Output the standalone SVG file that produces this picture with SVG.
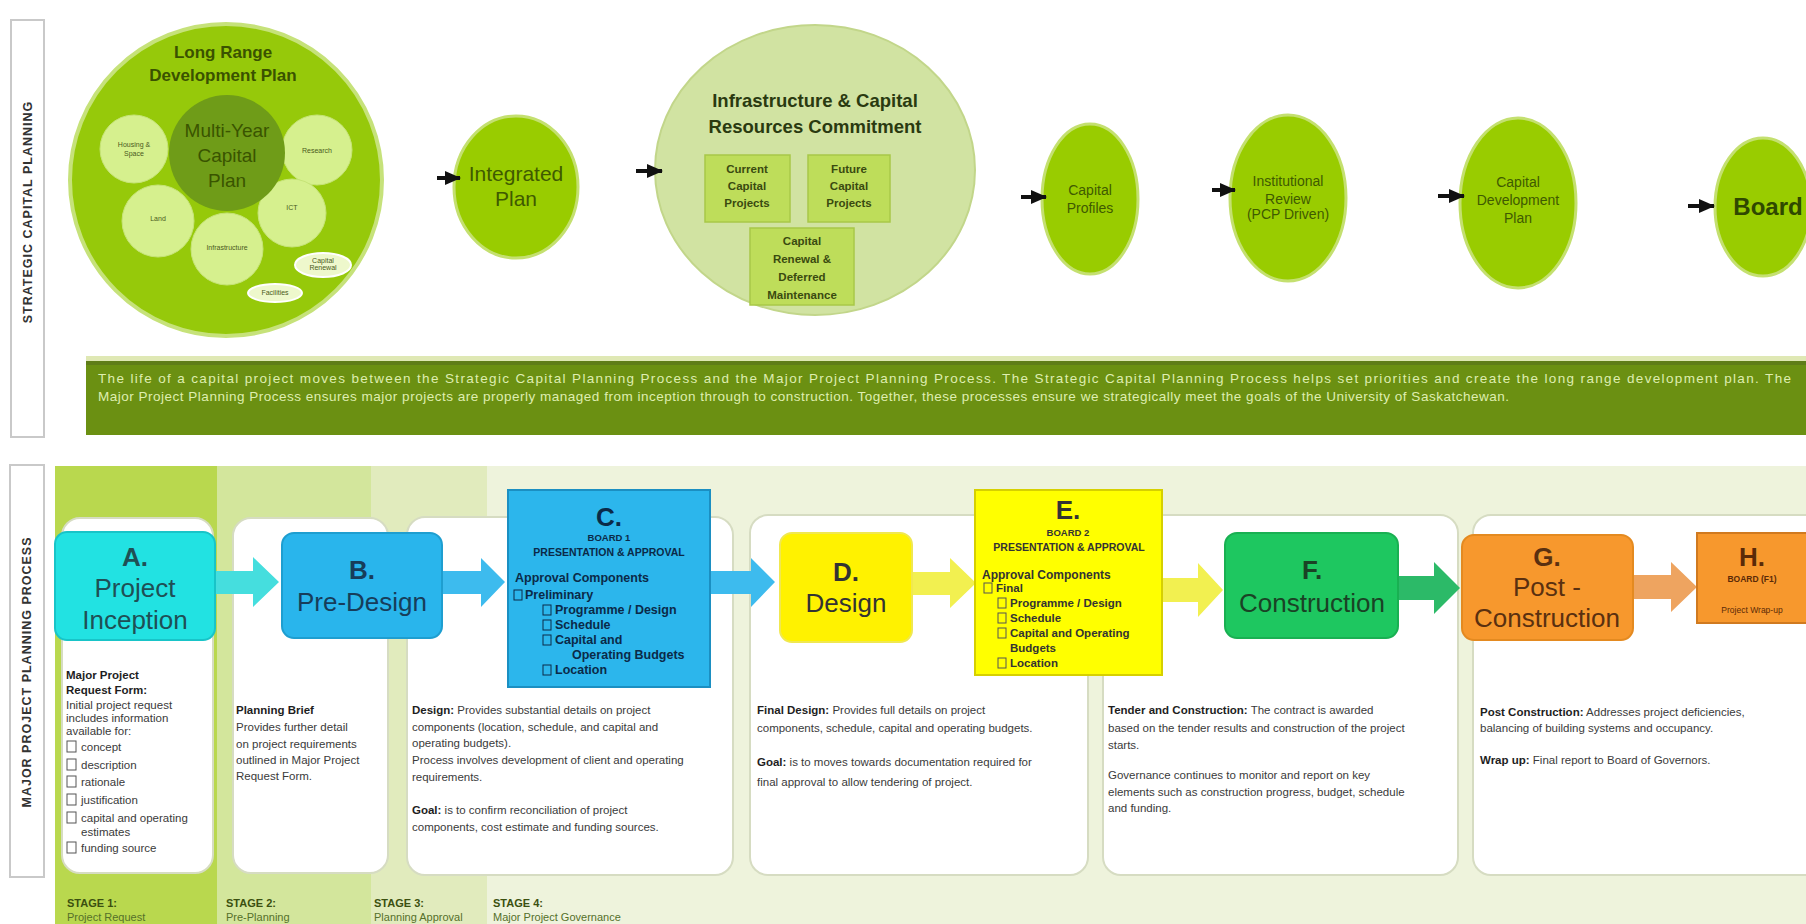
<svg xmlns="http://www.w3.org/2000/svg" width="1806" height="924" viewBox="0 0 1806 924">
<defs>
<style>
text{font-family:"Liberation Sans",Arial,Helvetica,sans-serif}
.side{font-size:12.5px;font-weight:bold;fill:#333;letter-spacing:1px}
.sbox{fill:#fff;stroke:#c9c9c9;stroke-width:2}
.gc{fill:#99cc00;stroke:#c4e070;stroke-width:3}
.ct{font-size:14px;fill:#3f5a00;text-anchor:middle}
.lc{fill:#d6f08e;stroke:#c6e478;stroke-width:1}
.tiny{font-size:7px;fill:#4a5a20;text-anchor:middle}
.sub{fill:#bedd5a;stroke:#a8c848;stroke-width:1.5}
.subt{font-size:11.5px;font-weight:bold;fill:#3a4a10;text-anchor:middle}
.banner{font-size:13.5px;fill:#dfeeb0}
.panel{fill:#fff;stroke:#d6dcc2;stroke-width:2}
.bt{font-size:11.5px;fill:#3a3a3a}
.bh{font-weight:bold;fill:#1e1e1e}
.st{font-size:26px;text-anchor:middle}
.stb{font-size:26px;font-weight:bold;text-anchor:middle}
.cb{fill:none;stroke:#555;stroke-width:1}
.appr{font-size:12.5px;font-weight:bold}
.stage1{font-size:11px;font-weight:bold;fill:#3b5010}
.stage2{font-size:11px;fill:#55702a}
</style>
<marker id="ah" markerWidth="16" markerHeight="14" refX="15" refY="7" orient="auto" markerUnits="userSpaceOnUse">
<path d="M0,0 L16,7 L0,14 Z" fill="#111"/>
</marker>
</defs>
<rect width="1806" height="924" fill="#ffffff"/>

<!-- side labels -->
<g id="label-strategic">
<rect class="sbox" x="11" y="20" width="33" height="417"/>
<text class="side" transform="translate(32,212) rotate(-90)" text-anchor="middle">STRATEGIC CAPITAL PLANNING</text>
</g>
<g id="label-major">
<rect class="sbox" x="10" y="465" width="34" height="412"/>
<text class="side" transform="translate(31,672) rotate(-90)" text-anchor="middle">MAJOR PROJECT PLANNING PROCESS</text>
</g>

<!-- Long range development plan -->
<g id="node-lrdp">
<circle cx="226" cy="180" r="156" fill="#96c90a" stroke="#c6e27a" stroke-width="4"/>
<text x="223" y="58" font-size="17" font-weight="bold" fill="#3a5200" text-anchor="middle">Long Range</text>
<text x="223" y="81" font-size="17" font-weight="bold" fill="#3a5200" text-anchor="middle">Development Plan</text>
<circle class="lc" cx="134" cy="149" r="34"/>
<text class="tiny" x="134" y="147">Housing &amp;</text>
<text class="tiny" x="134" y="156">Space</text>
<circle class="lc" cx="317" cy="150" r="35"/>
<text class="tiny" x="317" y="153">Research</text>
<circle class="lc" cx="158" cy="221" r="36"/>
<text class="tiny" x="158" y="221">Land</text>
<circle class="lc" cx="292" cy="213" r="34"/>
<text class="tiny" x="292" y="210">ICT</text>
<circle class="lc" cx="227" cy="249" r="36"/>
<text class="tiny" x="227" y="250">Infrastructure</text>
<circle cx="227" cy="153" r="58" fill="#6f9c18"/>
<text x="227" y="137" font-size="19" fill="#3a5400" text-anchor="middle">Multi-Year</text>
<text x="227" y="162" font-size="19" fill="#3a5400" text-anchor="middle">Capital</text>
<text x="227" y="187" font-size="19" fill="#3a5400" text-anchor="middle">Plan</text>
<ellipse cx="323" cy="265" rx="28" ry="12" fill="#eef8cc" stroke="#fff" stroke-width="2"/>
<text class="tiny" x="323" y="263" font-size="6">Capital</text>
<text class="tiny" x="323" y="270" font-size="6">Renewal</text>
<ellipse cx="275" cy="293" rx="27" ry="9" fill="#eef8cc" stroke="#fff" stroke-width="2"/>
<text class="tiny" x="275" y="295" font-size="6">Facilities</text>
</g>

<g id="node-integrated">
<ellipse class="gc" cx="516" cy="187" rx="62" ry="71"/>
<text x="516" y="181" font-size="21" fill="#3f5a00" text-anchor="middle">Integrated</text>
<text x="516" y="206" font-size="21" fill="#3f5a00" text-anchor="middle">Plan</text>
</g>

<g id="node-infrastructure">
<ellipse cx="815" cy="170" rx="160" ry="145" fill="#d1e3a2" stroke="#c2d68a" stroke-width="2"/>
<text x="815" y="107" font-size="18.5" font-weight="bold" fill="#2a3a10" text-anchor="middle">Infrastructure &amp; Capital</text>
<text x="815" y="133" font-size="18.5" font-weight="bold" fill="#2a3a10" text-anchor="middle">Resources Commitment</text>
<rect class="sub" x="705" y="155" width="85" height="67"/>
<text class="subt" x="747" y="173">Current</text>
<text class="subt" x="747" y="190">Capital</text>
<text class="subt" x="747" y="207">Projects</text>
<rect class="sub" x="808" y="155" width="82" height="67"/>
<text class="subt" x="849" y="173">Future</text>
<text class="subt" x="849" y="190">Capital</text>
<text class="subt" x="849" y="207">Projects</text>
<rect class="sub" x="750" y="228" width="104" height="77"/>
<text class="subt" x="802" y="245">Capital</text>
<text class="subt" x="802" y="263">Renewal &amp;</text>
<text class="subt" x="802" y="281">Deferred</text>
<text class="subt" x="802" y="299">Maintenance</text>
</g>

<g id="node-profiles">
<ellipse class="gc" cx="1090" cy="199" rx="48" ry="75"/>
<text class="ct" x="1090" y="195">Capital</text>
<text class="ct" x="1090" y="213">Profiles</text>
</g>
<g id="node-review">
<ellipse class="gc" cx="1288" cy="198" rx="58" ry="83"/>
<text class="ct" x="1288" y="186">Institutional</text>
<text class="ct" x="1288" y="204">Review</text>
<text class="ct" x="1288" y="219" font-size="9.5">(PCP Driven)</text>
</g>
<g id="node-cdp">
<ellipse class="gc" cx="1518" cy="203" rx="58" ry="85"/>
<text class="ct" x="1518" y="187">Capital</text>
<text class="ct" x="1518" y="205">Development</text>
<text class="ct" x="1518" y="223">Plan</text>
</g>
<g id="node-board">
<ellipse class="gc" cx="1763" cy="207" rx="48" ry="69"/>
<text x="1768" y="215" font-size="24" font-weight="bold" fill="#2f4800" text-anchor="middle">Board</text>
</g>

<!-- banner -->
<g id="banner">
<rect x="86" y="356" width="1720" height="5" fill="#dfe8b4"/>
<rect x="86" y="361" width="1720" height="74" fill="#6b9012"/>
<rect x="86" y="361" width="1720" height="4" fill="#5f7d18"/>
<text class="banner" x="98" y="383" textLength="1693">The life of a capital project moves between the Strategic Capital Planning Process and the Major Project Planning Process. The Strategic Capital Planning Process helps set priorities and create the long range development plan. The</text>
<text class="banner" x="98" y="401" textLength="1411">Major Project Planning Process ensures major projects are properly managed from inception through to construction. Together, these processes ensure we strategically meet the goals of the University of Saskatchewan.</text>
</g>

<!-- bottom background -->
<g id="stage-columns">
<rect x="55" y="466" width="1751" height="458" fill="#eef3dc"/>
<rect x="55" y="466" width="162" height="458" fill="#b9d84e"/>
<rect x="217" y="466" width="154" height="458" fill="#d3e69c"/>
<rect x="371" y="466" width="116" height="458" fill="#e1ebbd"/>
</g>

<!-- panels -->
<g id="panel-a">
<rect class="panel" x="62" y="518" width="151" height="355" rx="18"/>
<text class="bt bh" x="66" y="679">Major Project</text>
<text class="bt bh" x="66" y="694">Request Form:</text>
<text class="bt" x="66" y="709">Initial project request</text>
<text class="bt" x="66" y="722">includes information</text>
<text class="bt" x="66" y="735">available for:</text>
<rect class="cb" x="67" y="741" width="9" height="11"/>
<text class="bt" x="81" y="751">concept</text>
<rect class="cb" x="67" y="759" width="9" height="11"/>
<text class="bt" x="81" y="769">description</text>
<rect class="cb" x="67" y="776" width="9" height="11"/>
<text class="bt" x="81" y="786">rationale</text>
<rect class="cb" x="67" y="794" width="9" height="11"/>
<text class="bt" x="81" y="804">justification</text>
<rect class="cb" x="67" y="812" width="9" height="11"/>
<text class="bt" x="81" y="822">capital and operating</text>
<text class="bt" x="81" y="836">estimates</text>
<rect class="cb" x="67" y="842" width="9" height="11"/>
<text class="bt" x="81" y="852">funding source</text>
</g>
<g id="panel-b">
<rect class="panel" x="233" y="518" width="155" height="355" rx="18"/>
<text class="bt bh" x="236" y="714">Planning Brief</text>
<text class="bt" x="236" y="731">Provides further detail</text>
<text class="bt" x="236" y="748">on project requirements</text>
<text class="bt" x="236" y="764">outlined in Major Project</text>
<text class="bt" x="236" y="780">Request Form.</text>
</g>
<g id="panel-c">
<rect class="panel" x="407" y="517" width="326" height="358" rx="18"/>
<text class="bt" x="412" y="714"><tspan class="bh">Design:</tspan>  Provides substantial details on project</text>
<text class="bt" x="412" y="731">components (location, schedule, and capital and</text>
<text class="bt" x="412" y="747">operating budgets).</text>
<text class="bt" x="412" y="764">Process involves development of client and operating</text>
<text class="bt" x="412" y="781">requirements.</text>
<text class="bt" x="412" y="814"><tspan class="bh">Goal:</tspan> is to confirm reconciliation of project</text>
<text class="bt" x="412" y="831">components, cost estimate and funding sources.</text>
</g>
<g id="panel-d">
<rect class="panel" x="750" y="515" width="338" height="360" rx="18"/>
<text class="bt" x="757" y="714"><tspan class="bh">Final Design:</tspan>  Provides full details on project</text>
<text class="bt" x="757" y="732">components, schedule, capital and operating budgets.</text>
<text class="bt" x="757" y="766"><tspan class="bh">Goal:</tspan>  is to moves towards documentation required for</text>
<text class="bt" x="757" y="786">final approval to allow tendering of project.</text>
</g>
<g id="panel-f">
<rect class="panel" x="1103" y="515" width="355" height="360" rx="18"/>
<text class="bt" x="1108" y="714"><tspan class="bh">Tender and Construction:</tspan>  The contract is awarded</text>
<text class="bt" x="1108" y="732">based on the tender results and construction of the project</text>
<text class="bt" x="1108" y="749">starts.</text>
<text class="bt" x="1108" y="779">Governance continues to monitor and report on key</text>
<text class="bt" x="1108" y="796">elements such as construction progress, budget, schedule</text>
<text class="bt" x="1108" y="812">and funding.</text>
</g>
<g id="panel-g">
<rect class="panel" x="1473" y="515" width="350" height="360" rx="18"/>
<text class="bt" x="1480" y="716"><tspan class="bh">Post Construction:</tspan>  Addresses project deficiencies,</text>
<text class="bt" x="1480" y="732">balancing of building systems and occupancy.</text>
<text class="bt" x="1480" y="764"><tspan class="bh">Wrap up:</tspan>  Final report to Board of Governors.</text>
</g>

<!-- connectors -->
<g id="connectors">
<line x1="437" y1="178" x2="460" y2="178" stroke="#111" stroke-width="4" marker-end="url(#ah)"/>
<line x1="636" y1="171" x2="662" y2="171" stroke="#111" stroke-width="4" marker-end="url(#ah)"/>
<line x1="1021" y1="197" x2="1046" y2="197" stroke="#111" stroke-width="4" marker-end="url(#ah)"/>
<line x1="1212" y1="190" x2="1235" y2="190" stroke="#111" stroke-width="4" marker-end="url(#ah)"/>
<line x1="1438" y1="196" x2="1464" y2="196" stroke="#111" stroke-width="4" marker-end="url(#ah)"/>
<line x1="1688" y1="206" x2="1714" y2="206" stroke="#111" stroke-width="4" marker-end="url(#ah)"/>
<path d="M213,571 H253 V557 L279,582 L253,607 V594 H213 Z" fill="#45dede"/>
<path d="M440,571 H481 V558 L505,582 L481,607 V594 H440 Z" fill="#3dbbee"/>
<path d="M708,571 H751 V558 L775,582 L751,607 V594 H708 Z" fill="#3dbbee"/>
<path d="M910,572 H950 V558 L976,583 L950,608 V595 H910 Z" fill="#f2f050"/>
<path d="M1160,578 H1198 V563 L1223,590 L1198,617 V602 H1160 Z" fill="#f2f050"/>
<path d="M1396,576 H1434 V562 L1460,588 L1434,614 V600 H1396 Z" fill="#2cba68"/>
<path d="M1631,575 H1671 V562 L1697,587 L1671,612 V599 H1631 Z" fill="#eea460"/>
</g>

<!-- stage boxes -->
<g id="node-a">
<rect x="55" y="532" width="160" height="108" rx="12" fill="#22e2e2" stroke="#18c4c8" stroke-width="2"/>
<text class="stb" x="135" y="566" fill="#1f4f55">A.</text>
<text class="st" x="135" y="597" fill="#1f4f55">Project</text>
<text class="st" x="135" y="629" fill="#1f4f55">Inception</text>
</g>
<g id="node-b">
<rect x="282" y="533" width="160" height="105" rx="12" fill="#29b5ec" stroke="#1e9ed0" stroke-width="2"/>
<text class="stb" x="362" y="579" fill="#173d5a">B.</text>
<text class="st" x="362" y="611" fill="#173d5a">Pre-Design</text>
</g>
<g id="node-c">
<rect x="508" y="490" width="202" height="197" fill="#2cb6ec" stroke="#1b8fc2" stroke-width="2"/>
<text class="stb" x="609" y="526" fill="#0b2a48">C.</text>
<text x="609" y="541" font-size="9.5" font-weight="bold" fill="#0b2a48" text-anchor="middle">BOARD 1</text>
<text x="609" y="556" font-size="10.5" font-weight="bold" fill="#0b2a48" text-anchor="middle">PRESENTATION &amp; APPROVAL</text>
<g fill="#0b2a48">
<text class="appr" x="515" y="582">Approval Components</text>
<rect class="cb" x="514" y="590" width="8" height="10" style="stroke:#0b2a48"/>
<text class="appr" x="525" y="599">Preliminary</text>
<rect class="cb" x="543" y="605" width="8" height="10" style="stroke:#0b2a48"/>
<text class="appr" x="555" y="614">Programme / Design</text>
<rect class="cb" x="543" y="620" width="8" height="10" style="stroke:#0b2a48"/>
<text class="appr" x="555" y="629">Schedule</text>
<rect class="cb" x="543" y="635" width="8" height="10" style="stroke:#0b2a48"/>
<text class="appr" x="555" y="644">Capital and</text>
<text class="appr" x="572" y="659">Operating Budgets</text>
<rect class="cb" x="543" y="665" width="8" height="10" style="stroke:#0b2a48"/>
<text class="appr" x="555" y="674">Location</text>
</g>
</g>
<g id="node-d">
<rect x="780" y="533" width="132" height="109" rx="12" fill="#fff200" stroke="#f0e850" stroke-width="2"/>
<text class="stb" x="846" y="581" fill="#333">D.</text>
<text class="st" x="846" y="612" fill="#333">Design</text>
</g>
<g id="node-e">
<rect x="975" y="490" width="187" height="185" fill="#ffff00" stroke="#d6d000" stroke-width="2"/>
<text class="stb" x="1068" y="519" fill="#333">E.</text>
<text x="1068" y="536" font-size="9.5" font-weight="bold" fill="#333" text-anchor="middle">BOARD 2</text>
<text x="1069" y="551" font-size="10.5" font-weight="bold" fill="#333" text-anchor="middle">PRESENTATION &amp; APPROVAL</text>
<g fill="#333">
<text x="982" y="579" font-size="12" font-weight="bold">Approval Components</text>
<rect class="cb" x="984" y="583" width="8" height="10"/>
<text x="996" y="592" font-size="11.5" font-weight="bold">Final</text>
<rect class="cb" x="998" y="598" width="8" height="10"/>
<text x="1010" y="607" font-size="11.5" font-weight="bold">Programme / Design</text>
<rect class="cb" x="998" y="613" width="8" height="10"/>
<text x="1010" y="622" font-size="11.5" font-weight="bold">Schedule</text>
<rect class="cb" x="998" y="628" width="8" height="10"/>
<text x="1010" y="637" font-size="11.5" font-weight="bold">Capital and Operating</text>
<text x="1010" y="652" font-size="11.5" font-weight="bold">Budgets</text>
<rect class="cb" x="998" y="658" width="8" height="10"/>
<text x="1010" y="667" font-size="11.5" font-weight="bold">Location</text>
</g>
</g>
<g id="node-f">
<rect x="1225" y="533" width="173" height="105" rx="12" fill="#1ec760" stroke="#19b052" stroke-width="2"/>
<text class="stb" x="1312" y="579" fill="#1a4225">F.</text>
<text class="st" x="1312" y="612" fill="#1a4225">Construction</text>
</g>
<g id="node-g">
<rect x="1462" y="535" width="171" height="105" rx="12" fill="#f7982d" stroke="#e48a20" stroke-width="2"/>
<text class="stb" x="1547" y="566" fill="#5a3010">G.</text>
<text class="st" x="1547" y="596" fill="#5a3010">Post -</text>
<text class="st" x="1547" y="627" fill="#5a3010">Construction</text>
</g>
<g id="node-h">
<rect x="1697" y="533" width="115" height="90" fill="#f7982d" stroke="#d07a20" stroke-width="2"/>
<text class="stb" x="1752" y="566" fill="#5a2a08">H.</text>
<text x="1752" y="582" font-size="8.5" font-weight="bold" fill="#5a2a08" text-anchor="middle">BOARD (F1)</text>
<text x="1752" y="613" font-size="8.5" fill="#5a2a08" text-anchor="middle">Project Wrap-up</text>
</g>

<!-- stage labels -->
<g id="stage-labels">
<text class="stage1" x="67" y="907">STAGE 1:</text>
<text class="stage2" x="67" y="921">Project Request</text>
<text class="stage1" x="226" y="907">STAGE 2:</text>
<text class="stage2" x="226" y="921">Pre-Planning</text>
<text class="stage1" x="374" y="907">STAGE 3:</text>
<text class="stage2" x="374" y="921">Planning Approval</text>
<text class="stage1" x="493" y="907">STAGE 4:</text>
<text class="stage2" x="493" y="921">Major Project Governance</text>
</g>
</svg>
